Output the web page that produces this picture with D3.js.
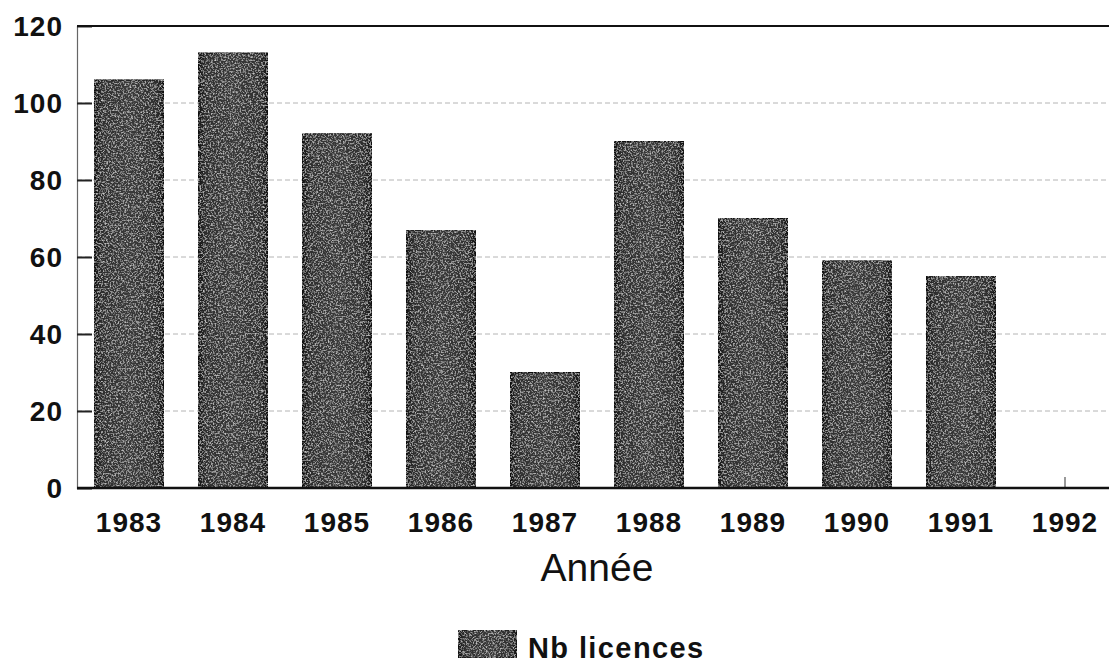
<!DOCTYPE html>
<html>
<head>
<meta charset="utf-8">
<script src="https://cdn.jsdelivr.net/npm/d3@7"></script>
<style>
  html, body { margin: 0; padding: 0; background: #fff; }
  svg { display: block; }
</style>
</head>
<body>
<div id="chart-area"></div>
<script>
(function () {
  // Data
  const years = ["1983", "1984", "1985", "1986", "1987", "1988", "1989", "1990", "1991", "1992"];
  const licences = [106, 113, 92, 67, 30, 90, 70, 59, 55, 0];
  const yTicks = [0, 20, 40, 60, 80, 100, 120];
  const xTitle = "Année";
  const seriesName = "Nb licences";

  const width = 1109;
  const height = 663;
  const plot = { left: 77, top: 26, bottom: 488, right: 1117 }; // last band runs off the page

  const svg = d3.select("#chart-area")
    .append("svg")
    .attr("width", width)
    .attr("height", height);

  // Grainy dark fill for the bars
  const defs = svg.append("defs");
  const grad = defs.append("linearGradient").attr("id", "barShade");
  grad.append("stop").attr("offset", "0%").attr("stop-color", "#111");
  grad.append("stop").attr("offset", "10%").attr("stop-color", "#2e2e2e");
  grad.append("stop").attr("offset", "50%").attr("stop-color", "#3a3a3a");
  grad.append("stop").attr("offset", "90%").attr("stop-color", "#2e2e2e");
  grad.append("stop").attr("offset", "100%").attr("stop-color", "#111");

  const grain = defs.append("filter").attr("id", "grain")
    .attr("x", 0).attr("y", 0).attr("width", 1).attr("height", 1);
  grain.append("feTurbulence")
    .attr("type", "fractalNoise").attr("baseFrequency", 0.6)
    .attr("numOctaves", 3).attr("seed", 7).attr("result", "noise");
  grain.append("feColorMatrix")
    .attr("in", "noise").attr("type", "matrix")
    .attr("values", "0 0 0 0 0.75  0 0 0 0 0.75  0 0 0 0 0.75  2.0 0 0 0 -0.95")
    .attr("result", "specks");
  grain.append("feComposite")
    .attr("in", "specks").attr("in2", "SourceGraphic")
    .attr("operator", "in").attr("result", "clipped");
  const merge = grain.append("feMerge");
  merge.append("feMergeNode").attr("in", "SourceGraphic");
  merge.append("feMergeNode").attr("in", "clipped");

  // Scales
  const x = d3.scaleBand().domain(years).range([plot.left, plot.right]);
  const y = d3.scaleLinear().domain([0, 120]).range([plot.bottom, plot.top]);
  const barWidth = 70;
  const inset = (x.bandwidth() - barWidth) / 2;

  // Dotted gridlines
  svg.append("g")
    .selectAll("line")
    .data(yTicks.filter((t) => t > 0 && t < 120))
    .enter()
    .append("line")
    .attr("x1", plot.left)
    .attr("x2", width)
    .attr("y1", (d) => y(d))
    .attr("y2", (d) => y(d))
    .attr("stroke", "#b4b4b4")
    .attr("stroke-width", 1)
    .attr("stroke-dasharray", "5,3");

  // Bars
  svg.append("g")
    .selectAll("rect")
    .data(years.map((yr, i) => ({ year: yr, value: licences[i] })).filter((d) => d.value > 0))
    .enter()
    .append("rect")
    .attr("x", (d) => x(d.year) + inset)
    .attr("y", (d) => y(d.value))
    .attr("width", barWidth)
    .attr("height", (d) => y(0) - y(d.value))
    .attr("fill", "url(#barShade)")
    .attr("stroke", "#111")
    .attr("stroke-width", 1)
    .attr("filter", "url(#grain)");

  // Small mark for the empty 1992 category
  svg.append("line")
    .attr("x1", x("1992") + x.bandwidth() / 2)
    .attr("x2", x("1992") + x.bandwidth() / 2)
    .attr("y1", y(0) - 11)
    .attr("y2", y(0))
    .attr("stroke", "#777")
    .attr("stroke-width", 1.5);

  // Y axis: thin left line, inner ticks, labels
  const yAxis = d3.axisRight(y)
    .tickValues(yTicks)
    .tickSize(15)
    .tickFormat("");
  const yg = svg.append("g").attr("transform", `translate(${plot.left},0)`).call(yAxis);
  yg.select(".domain").attr("stroke", "#666").attr("stroke-width", 1.2);
  yg.selectAll(".tick line").attr("stroke", "#222").attr("stroke-width", 2);

  svg.append("g")
    .selectAll("text")
    .data(yTicks)
    .enter()
    .append("text")
    .attr("x", plot.left - 14)
    .attr("y", (d) => y(d))
    .attr("dy", "0.36em")
    .attr("text-anchor", "end")
    .style("font-family", "'Liberation Sans', Arial, sans-serif")
    .style("font-weight", "bold")
    .style("font-size", "28px")
    .style("letter-spacing", "1px")
    .attr("fill", "#111")
    .text((d) => d);

  // Frame lines: top and bottom
  svg.append("line")
    .attr("x1", plot.left).attr("x2", width)
    .attr("y1", y(120)).attr("y2", y(120))
    .attr("stroke", "#111").attr("stroke-width", 2.2);
  svg.append("line")
    .attr("x1", plot.left).attr("x2", width)
    .attr("y1", y(0)).attr("y2", y(0))
    .attr("stroke", "#111").attr("stroke-width", 2.5);

  // X labels
  svg.append("g")
    .selectAll("text")
    .data(years)
    .enter()
    .append("text")
    .attr("x", (d) => x(d) + x.bandwidth() / 2)
    .attr("y", 532)
    .attr("text-anchor", "middle")
    .style("font-family", "'Liberation Sans', Arial, sans-serif")
    .style("font-weight", "bold")
    .style("font-size", "28px")
    .style("letter-spacing", "1px")
    .attr("fill", "#111")
    .text((d) => d);

  // X title
  svg.append("text")
    .attr("x", (plot.left + plot.right) / 2)
    .attr("y", 581)
    .attr("text-anchor", "middle")
    .style("font-family", "'Liberation Sans', Arial, sans-serif")
    .style("font-size", "39px")
    .attr("fill", "#111")
    .text(xTitle);

  // Legend
  const legend = svg.append("g").attr("transform", "translate(458,630)");
  legend.append("rect")
    .attr("width", 59)
    .attr("height", 28)
    .attr("fill", "url(#barShade)")
    .attr("stroke", "#111")
    .attr("filter", "url(#grain)");
  legend.append("text")
    .attr("x", 70)
    .attr("y", 28)
    .style("font-family", "'Liberation Sans', Arial, sans-serif")
    .style("font-weight", "bold")
    .style("font-size", "29px")
    .style("letter-spacing", "1.4px")
    .attr("fill", "#111")
    .text(seriesName);
})();
</script>
</body>
</html>
